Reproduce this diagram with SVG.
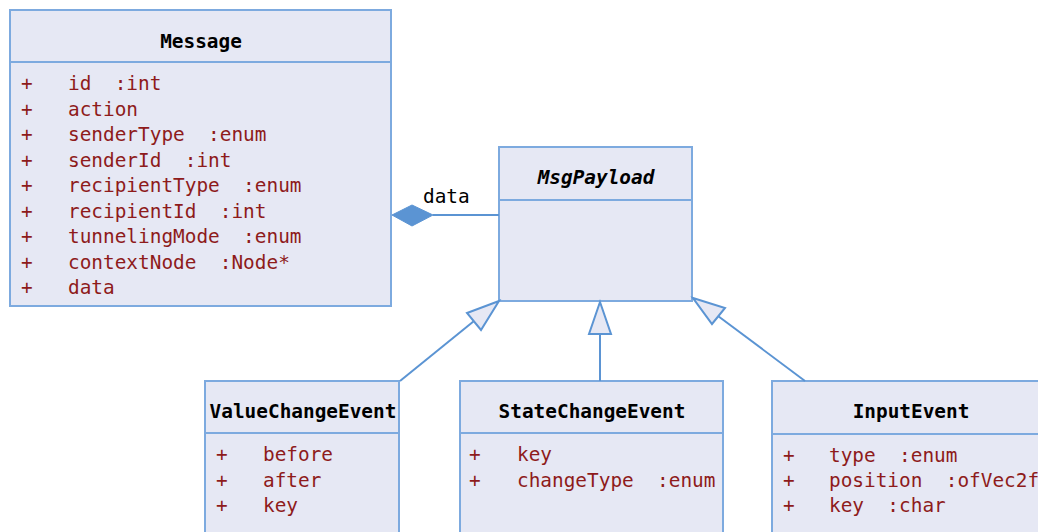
<svg xmlns="http://www.w3.org/2000/svg" width="1038" height="532" viewBox="0 0 1038 532">
<style>
.box{fill:#E6E8F4;stroke:#7DAADF;stroke-width:2}
.div{stroke:#7DAADF;stroke-width:2}
.title{font-family:"DejaVu Sans Mono","Liberation Mono",monospace;font-size:19.4px;font-weight:bold;fill:#000;text-anchor:middle}
.attr{font-family:"DejaVu Sans Mono","Liberation Mono",monospace;font-size:19.4px;fill:#8E1B1B;white-space:pre}
.conn{stroke:#5B94D3;stroke-width:2;fill:none}
.tri{fill:#E6E8F4;stroke:#5B94D3;stroke-width:2}
.lbl{font-family:"DejaVu Sans Mono","Liberation Mono",monospace;font-size:19.4px;fill:#000}
</style>
<rect width="1038" height="532" fill="#fff"/>
<g id="Message">
<rect class="box" x="10" y="10" width="381" height="296"/>
<line class="div" x1="10" y1="62" x2="391" y2="62"/>
<text class="title" x="201" y="48">Message</text>
<g class="attr">
<text x="21" y="90">+</text><text x="68" y="90" xml:space="preserve">id  :int</text>
<text x="21" y="116">+</text><text x="68" y="116">action</text>
<text x="21" y="141">+</text><text x="68" y="141" xml:space="preserve">senderType  :enum</text>
<text x="21" y="167">+</text><text x="68" y="167" xml:space="preserve">senderId  :int</text>
<text x="21" y="192">+</text><text x="68" y="192" xml:space="preserve">recipientType  :enum</text>
<text x="21" y="218">+</text><text x="68" y="218" xml:space="preserve">recipientId  :int</text>
<text x="21" y="243">+</text><text x="68" y="243" xml:space="preserve">tunnelingMode  :enum</text>
<text x="21" y="269">+</text><text x="68" y="269" xml:space="preserve">contextNode  :Node*</text>
<text x="21" y="294">+</text><text x="68" y="294">data</text>
</g>
</g>
<g id="MsgPayload">
<rect class="box" x="499" y="147" width="193" height="154"/>
<line class="div" x1="499" y1="200" x2="692" y2="200"/>
<text class="title" x="596" y="184" font-style="italic">MsgPayload</text>
</g>
<g id="ValueChangeEvent">
<rect class="box" x="205" y="381" width="194" height="170"/>
<line class="div" x1="205" y1="433" x2="399" y2="433"/>
<text class="title" x="303" y="418">ValueChangeEvent</text>
<g class="attr">
<text x="216" y="461">+</text><text x="263" y="461">before</text>
<text x="216" y="487">+</text><text x="263" y="487">after</text>
<text x="216" y="512">+</text><text x="263" y="512">key</text>
</g>
</g>
<g id="StateChangeEvent">
<rect class="box" x="460" y="381" width="263" height="170"/>
<line class="div" x1="460" y1="433" x2="723" y2="433"/>
<text class="title" x="592" y="418">StateChangeEvent</text>
<g class="attr">
<text x="469" y="461">+</text><text x="517" y="461">key</text>
<text x="469" y="487">+</text><text x="517" y="487" xml:space="preserve">changeType  :enum</text>
</g>
</g>
<g id="InputEvent">
<rect class="box" x="772" y="381" width="300" height="170"/>
<line class="div" x1="772" y1="434" x2="1072" y2="434"/>
<text class="title" x="911" y="418">InputEvent</text>
<g class="attr">
<text x="783" y="462">+</text><text x="829" y="462" xml:space="preserve">type  :enum</text>
<text x="783" y="487">+</text><text x="829" y="487" xml:space="preserve">position  :ofVec2f</text>
<text x="783" y="512">+</text><text x="829" y="512" xml:space="preserve">key  :char</text>
</g>
</g>
<g id="connectors">
<line class="conn" x1="433" y1="215" x2="499" y2="215"/>
<polygon points="392,215 412,205 433,215 412,226" fill="#5B94D3" stroke="#5B94D3" stroke-width="1"/>
<text class="lbl" x="423" y="203">data</text>
<line class="conn" x1="400" y1="381" x2="474" y2="321"/>
<polygon class="tri" points="499,301 467,313 481,330"/>
<line class="conn" x1="600" y1="381" x2="600" y2="334"/>
<polygon class="tri" points="600,302 589,334 611,334"/>
<line class="conn" x1="805" y1="381" x2="718" y2="316"/>
<polygon class="tri" points="693,298 725,308 712,324"/>
</g>
</svg>
